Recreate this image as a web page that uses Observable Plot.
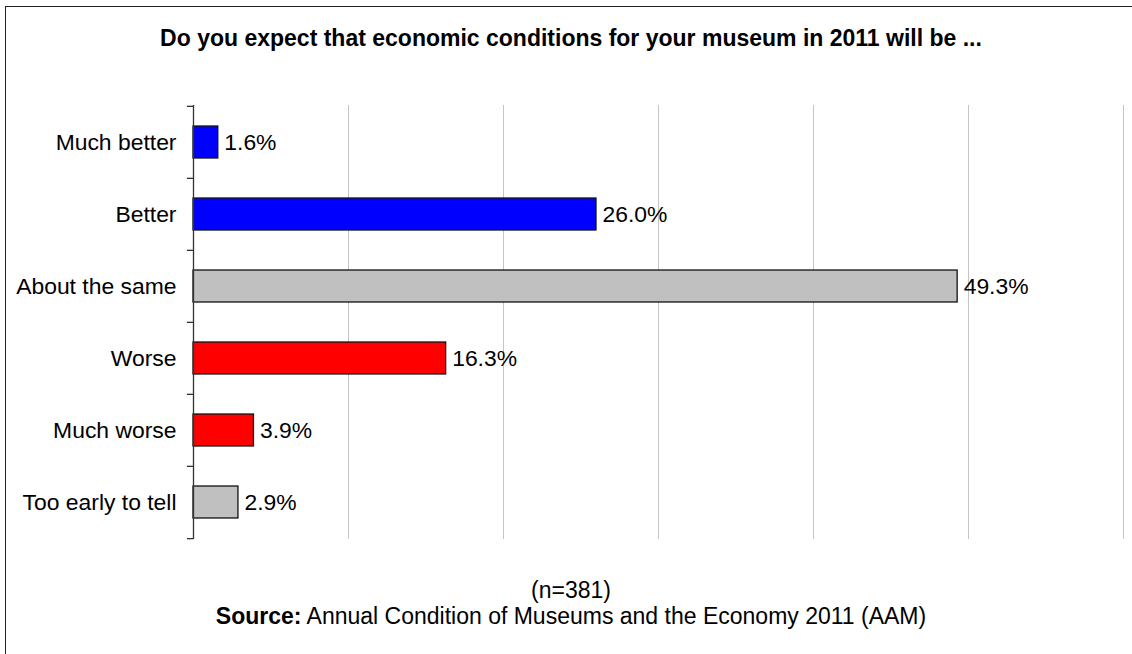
<!DOCTYPE html>
<html>
<head>
<meta charset="utf-8">
<script src="https://cdn.jsdelivr.net/npm/d3@7"></script>
<script src="https://cdn.jsdelivr.net/npm/@observablehq/plot@0.6"></script>
<style>
  html, body { margin: 0; padding: 0; background: #fff; overflow: hidden; }
  #wrap { position: relative; width: 1132px; height: 654px; font-family: "Liberation Sans", Arial, sans-serif; color: #000; }
  #frame { position: absolute; left: 5px; top: 6px; width: 2000px; height: 2000px; border-left: 1.5px solid #222; border-top: 1.5px solid #222; box-sizing: border-box; }
  #chart { position: absolute; left: 0; top: 0; }
  .txt { position: absolute; left: 0; width: 1142px; text-align: center; font-size: 23px; line-height: 23px; white-space: nowrap; }
  #title { top: 27px; font-weight: bold; }
  #n { top: 579px; }
  #source { top: 605px; }
</style>
</head>
<body>
<div id="wrap">
  <div id="frame"></div>
  <div id="chart"></div>
  <div class="txt" id="title">Do you expect that economic conditions for your museum in 2011 will be ...</div>
  <div class="txt" id="n">(n=381)</div>
  <div class="txt" id="source"><b>Source:</b> Annual Condition of Museums and the Economy 2011 (AAM)</div>
</div>
<script>
const categories = ["Much better", "Better", "About the same", "Worse", "Much worse", "Too early to tell"];
const values = [1.6, 26.0, 49.3, 16.3, 3.9, 2.9];
const barColors = ["#0000ff", "#0000ff", "#c0c0c0", "#ff0000", "#ff0000", "#c0c0c0"];
const gridTicks = [10, 20, 30, 40, 50, 60];

const data = categories.map((c, i) => ({category: c, value: values[i], color: barColors[i]}));

const W = 1132, H = 654;
const mTop = 105, mBottom = 115, mLeft = 193, mRight = 9;
const step = (H - mTop - mBottom) / categories.length;
const pxPerUnit = (W - mLeft - mRight) / 60;
const barH = 32.3;
const inset = (step - barH) / 2;
const font = "Liberation Sans, Arial, sans-serif";
const fs = 22.9;

const chart = Plot.plot({
  width: W,
  height: H,
  marginTop: mTop,
  marginBottom: mBottom,
  marginLeft: mLeft,
  marginRight: mRight,
  style: {fontFamily: font, fontSize: fs + "px", background: "transparent", overflow: "visible"},
  x: {domain: [0, 60], axis: null},
  y: {domain: categories, padding: 0, axis: null},
  marks: [
    Plot.ruleX(gridTicks, {x: d => d, stroke: "#c4c4c4", strokeWidth: 1}),
    Plot.barX(data, {x: "value", y: "category", fill: "color", stroke: "#111", strokeWidth: 1.3, insetTop: inset, insetBottom: inset}),
    Plot.ruleX([0], {x: d => d, stroke: "#333", strokeWidth: 1.3}),
    Plot.ruleY(categories, {y: d => d, x1: -6 / pxPerUnit, x2: 0, dy: -step / 2, stroke: "#333", strokeWidth: 1.3, clip: false}),
    Plot.ruleY([categories[categories.length - 1]], {y: d => d, x1: -6 / pxPerUnit, x2: 0, dy: step / 2, stroke: "#333", strokeWidth: 1.3, clip: false}),
    Plot.text(categories, {y: d => d, text: d => d, frameAnchor: "left", dx: -17, textAnchor: "end", fontSize: fs, fill: "#000"}),
    Plot.text(data, {x: "value", y: "category", text: d => d.value.toFixed(1) + "%", dx: 6, textAnchor: "start", fontSize: fs, fill: "#000"})
  ]
});
document.getElementById("chart").appendChild(chart);
</script>
</body>
</html>
